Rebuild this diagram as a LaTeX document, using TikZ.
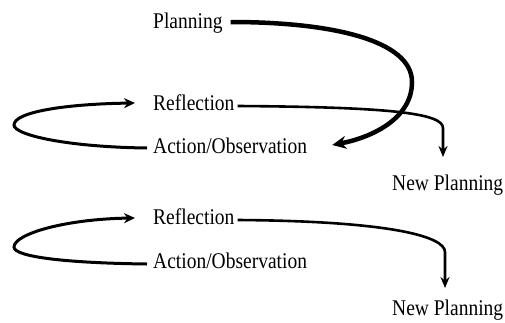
\documentclass[tikz,border=0pt]{standalone}
\usepackage{fontspec}
\setmainfont{Liberation Serif}
\usetikzlibrary{arrows.meta}
\newcommand{\stretchtxt}[1]{\scalebox{1}[1.15]{#1}}
\begin{document}
\begin{tikzpicture}[x=1pt,y=-1pt,
  lbl/.style={anchor=base west,inner sep=0pt,font=\fontsize{19.5pt}{22pt}\selectfont},
  loopline/.style={line width=3pt,-{Stealth[length=11pt,width=10pt]}},
  refline/.style={line width=2.6pt,-{Stealth[length=11pt,width=9pt]}},
  planline/.style={line width=4.5pt,-{Stealth[length=14pt,width=13pt]}}]
\useasboundingbox (0,0) rectangle (505,322);
% nodes
\node[lbl] (plan) at (153,28) {\stretchtxt{Planning}};
\node[lbl] (ref1) at (153,110) {\stretchtxt{Reflection}};
\node[lbl] (act1) at (153,153) {\stretchtxt{Action/Observation}};
\node[lbl] (np1) at (392,190) {\stretchtxt{New Planning}};
\node[lbl] (ref2) at (153,224) {\stretchtxt{Reflection}};
\node[lbl] (act2) at (153,268) {\stretchtxt{Action/Observation}};
\node[lbl] (np2) at (392,315) {\stretchtxt{New Planning}};
\coordinate (l1) at (14,125);
\coordinate (l2) at (14,247);
\coordinate (t1) at (443,157);
\coordinate (t2) at (445,288);
% loops
\draw[loopline] ([shift={(-6,-5)}]act1.base west) .. controls +(-80,-1) and +(0,10) .. (l1)
  .. controls +(0,-13) and +(-70,1) .. ([shift={(-18,-7)}]ref1.base west);
\draw[loopline] ([shift={(-6,-4)}]act2.base west) .. controls +(-80,-1) and +(0,10) .. (l2)
  .. controls +(0,-13) and +(-70,1) .. ([shift={(-18,-6)}]ref2.base west);
% reflection to new planning
\draw[refline] ([shift={(3,-4)}]ref1.base east) .. controls +(150,1) and +(0,-15) .. ([shift={(0,-29)}]t1) -- (t1);
\draw[refline] ([shift={(3,-4)}]ref2.base east) .. controls +(150,1) and +(0,-16) .. ([shift={(0,-36)}]t2) -- (t2);
% planning arrow
\draw[planline] ([shift={(8,-6)}]plan.base east) .. controls +(100,0) and +(0,-42) .. (412,82)
  .. controls +(0,38) and +(37,-7) .. ([shift={(25,-8)}]act1.base east);
\end{tikzpicture}
\end{document}
